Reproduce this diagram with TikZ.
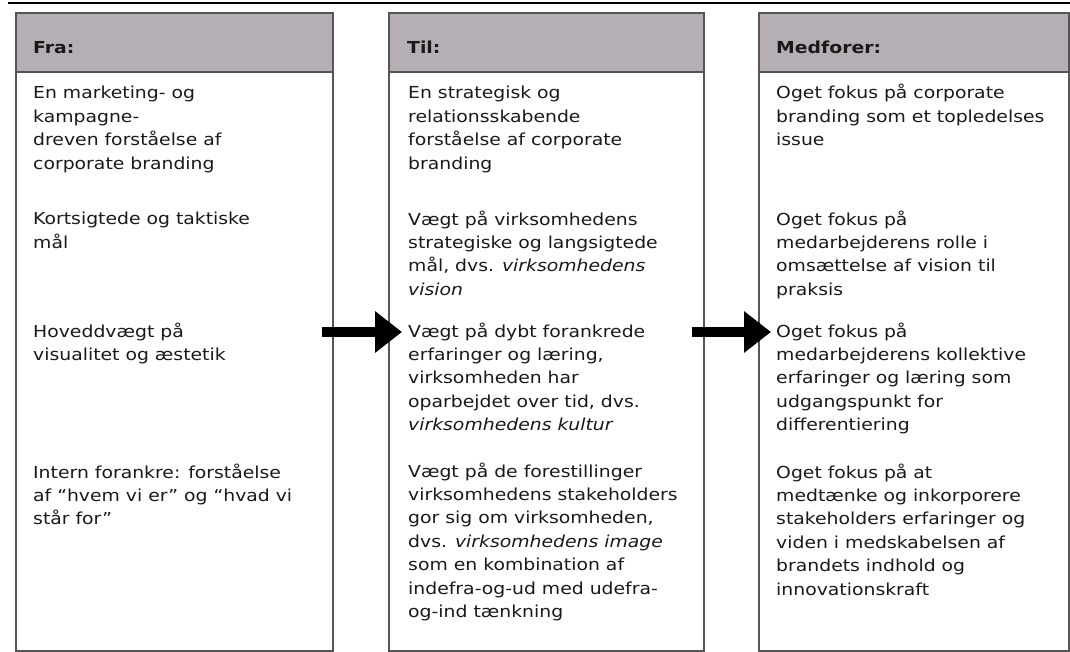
\documentclass[tikz,border=0pt]{standalone}
\usepackage{fontspec}
\setmainfont[FakeStretch=1.14]{DejaVu Sans}
\usetikzlibrary{arrows.meta}
\definecolor{headgrey}{RGB}{181,175,181}
\definecolor{frame}{RGB}{85,85,85}
\definecolor{ink}{RGB}{25,25,25}
\tikzset{
  panel/.style={draw=frame, line width=1.6pt, fill=white, anchor=north west,
    inner sep=0pt, minimum height=579pt},
  headbar/.style={draw=frame, line width=1.6pt, fill=headgrey, anchor=north west,
    inner sep=0pt, minimum height=59pt},
  headtext/.style={anchor=base west, inner sep=0pt, text=ink,
    font=\fontsize{16.5}{23.4}\selectfont\bfseries},
  % multi-line blocks are placed by the baseline of their last line
  bodytext/.style={anchor=base west, inner sep=0pt, align=left, text=ink,
    font=\fontsize{16.5}{23.4}\selectfont},
  flow/.style={line width=10pt, -{Triangle[length=27pt,width=40pt]}, black}
}
\begin{document}
\begin{tikzpicture}[x=1pt,y=-1pt]
\useasboundingbox (0,0) rectangle (1070,652);

% rule across the top
\coordinate (ruleL) at (8,3);
\coordinate (ruleR) at (1070,3);
\draw[line width=2pt] (ruleL) -- (ruleR);

% three columns: body panel + grey header
\node[panel, minimum width=317pt] (fraBox) at (15,71) {};
\node[headbar, minimum width=317pt] (fraHead) at (15,12) {};
\node[panel, minimum width=315pt] (tilBox) at (388,71) {};
\node[headbar, minimum width=315pt] (tilHead) at (388,12) {};
\node[panel, minimum width=310pt] (medBox) at (758,71) {};
\node[headbar, minimum width=310pt] (medHead) at (758,12) {};

% headers
\node[headtext] (fraT) at (33,54) {Fra:};
\node[headtext] (tilT) at (407,54) {Til:};
\node[headtext] (medT) at (776,54) {Medforer:};

% column 1
\node[bodytext] (f1) at (33,169.2) {En marketing- og\\kampagne-\\dreven forståelse af\\corporate branding};
\node[bodytext] (f2) at (33,248.4) {Kortsigtede og taktiske\\mål};
\node[bodytext] (f3) at (33,360.4) {Hoveddvægt på\\visualitet og æstetik};
\node[bodytext] (f4) at (33,524.8) {Intern forankre: forståelse\\af “hvem vi er” og “hvad vi\\står for”};

% column 2
\node[bodytext] (t1) at (408,169.2) {En strategisk og\\relationsskabende\\forståelse af corporate\\branding};
\node[bodytext] (t2) at (408,295.2) {Vægt på virksomhedens\\strategiske og langsigtede\\mål, dvs. \textit{virksomhedens}\\\textit{vision}};
\node[bodytext] (t3) at (408,430.6) {Vægt på dybt forankrede\\erfaringer og læring,\\virksomheden har\\oparbejdet over tid, dvs.\\\textit{virksomhedens kultur}};
\node[bodytext] (t4) at (408,617.4) {Vægt på de forestillinger\\virksomhedens stakeholders\\gor sig om virksomheden,\\dvs. \textit{virksomhedens image}\\som en kombination af\\indefra-og-ud med udefra-\\og-ind tænkning};

% column 3
\node[bodytext] (m1) at (776,145.8) {Oget fokus på corporate\\branding som et topledelses\\issue};
\node[bodytext] (m2) at (776,295.2) {Oget fokus på\\medarbejderens rolle i\\omsættelse af vision til\\praksis};
\node[bodytext] (m3) at (776,430.6) {Oget fokus på\\medarbejderens kollektive\\erfaringer og læring som\\udgangspunkt for\\differentiering};
\node[bodytext] (m4) at (776,595) {Oget fokus på at\\medtænke og inkorporere\\stakeholders erfaringer og\\viden i medskabelsen af\\brandets indhold og\\innovationskraft};

% block arrows between the columns
\coordinate (a1s) at (322,332);
\coordinate (a1e) at (402,332);
\coordinate (a2s) at (692,332);
\coordinate (a2e) at (771,332);
\draw[flow] (a1s) -- (a1e);
\draw[flow] (a2s) -- (a2e);
\end{tikzpicture}
\end{document}
